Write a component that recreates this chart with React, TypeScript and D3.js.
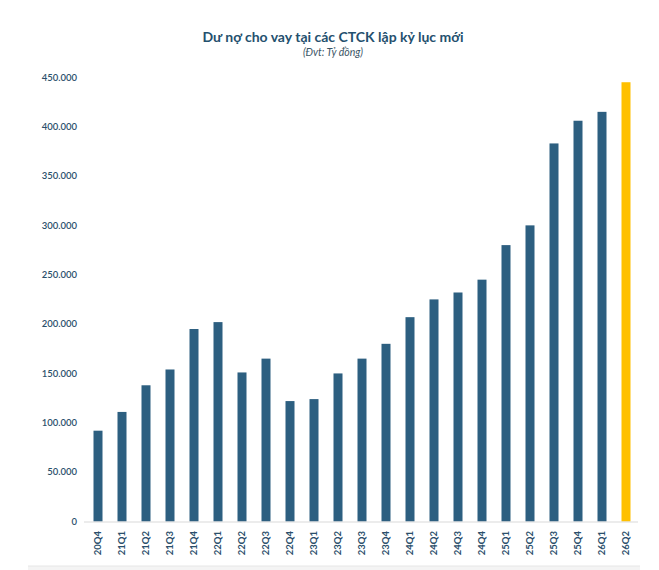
import React from 'react';
import * as d3 from 'd3';

// quarterly margin lending balance, unit: billion VND
const quarters = [
  '20Q4', '21Q1', '21Q2', '21Q3', '21Q4', '22Q1', '22Q2', '22Q3', '22Q4',
  '23Q1', '23Q2', '23Q3', '23Q4', '24Q1', '24Q2', '24Q3', '24Q4',
  '25Q1', '25Q2', '25Q3', '25Q4', '26Q1', '26Q2',
];
const balances = [
  92000, 111000, 138000, 154000, 195000, 202000, 151000, 165000, 122000,
  124000, 150000, 165000, 180000, 207000, 225000, 232000, 245000,
  280000, 300000, 383000, 406000, 415000, 445000,
];
const highlight = '26Q2';
const yTicks = [0, 50000, 100000, 150000, 200000, 250000, 300000, 350000, 400000, 450000];

const title = 'Dư nợ cho vay tại các CTCK lập kỷ lục mới';
const subtitle = '(Đvt: Tỷ đồng)';

const W = 659;
const H = 570;
const FONT = 'Lato, "Open Sans", sans-serif';
const NAVY = '#2d5f80';
const GOLD = '#ffc000';
const TEXT = '#2b4f6b';

const vn = d3.formatLocale({ decimal: ',', thousands: '.', grouping: [3], currency: ['', ''] });
const fmt = vn.format(',');

export default function App() {
  const x = d3.scaleBand<string>()
    .domain(quarters)
    .range([86, 638])
    .paddingInner(0.625)
    .paddingOuter(0.3125);

  const y = d3.scaleLinear().domain([0, 450000]).range([521.5, 77.3]);

  const data = quarters.map((q, i) => ({ q, v: balances[i] }));

  return (
    <svg width={W} height={H} style={{ position: 'absolute', left: 0, top: 0, background: '#fff' }}>
      <text x={333} y={42} textAnchor="middle" fontFamily={FONT} fontWeight={700} fontSize={14} fill="#24506e">
        {title}
      </text>
      <text x={333} y={56} textAnchor="middle" fontFamily={FONT} fontStyle="italic" fontSize={10.5} fill="#3c5566">
        {subtitle}
      </text>

      {yTicks.map(t => (
        <text key={t} x={77} y={y(t)} dy="0.35em" textAnchor="end" fontFamily={FONT} fontSize={9.5} fontWeight={600} fill={TEXT}>
          {fmt(t)}
        </text>
      ))}

      {data.map(d => (
        <rect
          key={d.q}
          x={x(d.q)}
          y={y(d.v)}
          width={x.bandwidth()}
          height={y(0) - y(d.v)}
          fill={d.q === highlight ? GOLD : NAVY}
        />
      ))}

      <line x1={84} x2={638} y1={y(0) + 0.5} y2={y(0) + 0.5} stroke="#d9d9d9" strokeWidth={1} />

      {quarters.map(q => {
        const cx = (x(q) ?? 0) + x.bandwidth() / 2;
        return (
          <text
            key={q}
            transform={`translate(${cx},531) rotate(-90)`}
            textAnchor="end"
            dy="0.35em"
            fontFamily={FONT}
            fontSize={9.5}
            fontWeight={700}
            fill={TEXT}
          >
            {q}
          </text>
        );
      })}

      <rect x={28} y={566} width={612} height={4} fill="#f4f4f4" />
      <line x1={28} x2={640} y1={566} y2={566} stroke="#e6e6e6" strokeWidth={1} />
    </svg>
  );
}
